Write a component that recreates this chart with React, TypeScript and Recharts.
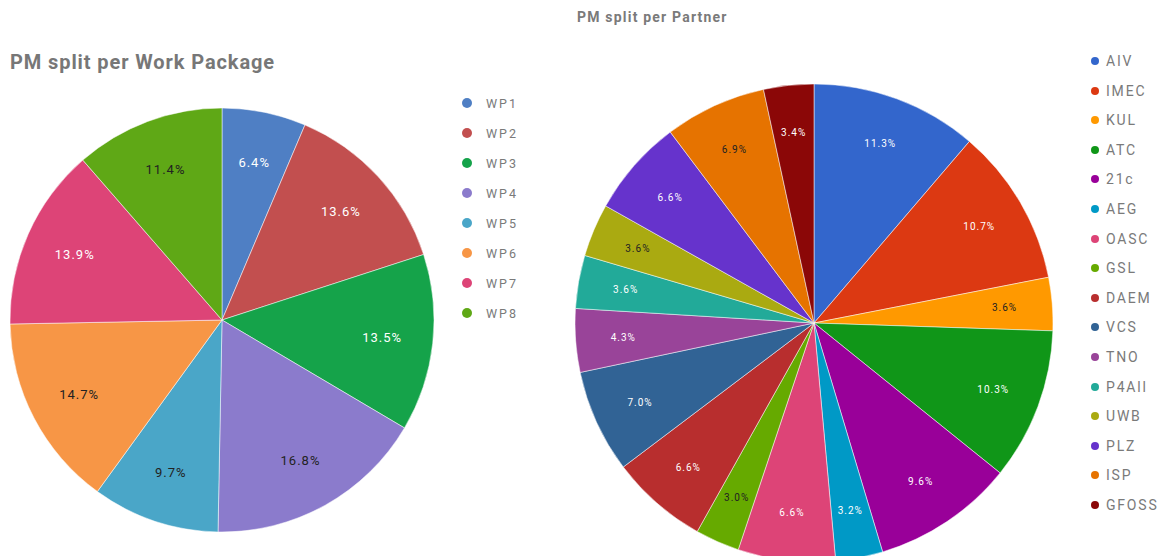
import React from "react";
import { PieChart, Pie, Cell, Legend } from "recharts";

const wpNames = ["WP1", "WP2", "WP3", "WP4", "WP5", "WP6", "WP7", "WP8"];
const wpValues = [6.4, 13.6, 13.5, 16.8, 9.7, 14.7, 13.9, 11.4];

const partnerNames = ["AIV", "IMEC", "KUL", "ATC", "21c", "AEG", "OASC", "GSL", "DAEM", "VCS", "TNO", "P4All", "UWB", "PLZ", "ISP", "GFOSS"];
const partnerValues = [11.3, 10.7, 3.6, 10.3, 9.6, 3.2, 6.6, 3.0, 6.6, 7.0, 4.3, 3.6, 3.6, 6.6, 6.9, 3.4];

const wpColors = ["#4f7fc4", "#c24f4f", "#15a34a", "#8b7bcc", "#4aa6c8", "#f79646", "#dd4477", "#5fa816"];
const wpLabelColors = ["#fff", "#fff", "#fff", "#222", "#222", "#222", "#fff", "#222"];
const partnerColors = ["#3366cc", "#dc3912", "#ff9900", "#109618", "#990099", "#0099c6", "#dd4477", "#66aa00", "#b82e2e", "#316395", "#994499", "#22aa99", "#aaaa11", "#6633cc", "#e67300", "#8b0707"];
const partnerLabelColors = ["#fff", "#fff", "#222", "#fff", "#fff", "#fff", "#fff", "#222", "#fff", "#fff", "#fff", "#fff", "#222", "#fff", "#222", "#fff"];

const wpData = wpNames.map((name, i) => ({ name, value: wpValues[i] }));
const partnerData = partnerNames.map((name, i) => ({ name, value: partnerValues[i] }));

const RAD = Math.PI / 180;
const FONT = "Roboto, 'Noto Sans', sans-serif";

const makeLabel = (frac: number, colors: string[], size: number, spacing: number) => (props: any) => {
  const { cx, cy, midAngle, outerRadius, index, value } = props;
  const r = outerRadius * frac;
  const x = cx + r * Math.cos(-midAngle * RAD);
  const y = cy + r * Math.sin(-midAngle * RAD);
  return (
    <text x={x} y={y} fill={colors[index]} fontSize={size} fontFamily={FONT} letterSpacing={spacing} textAnchor="middle" dominantBaseline="central">
      {Number(value).toFixed(1)}%
    </text>
  );
};

const makeLegend = (order: string[], spacing: number, dotR: number, gap: number, size: number, ls: number) => (props: any) => {
  const payload = [...(props.payload || [])].sort((a: any, b: any) => order.indexOf(a.value) - order.indexOf(b.value));
  return (
    <div style={{ position: "relative" }}>
      {payload.map((p: any, i: number) => (
        <div key={i} style={{ position: "absolute", left: 0, top: i * spacing, height: 16, display: "flex", alignItems: "center", fontFamily: FONT, fontSize: size, letterSpacing: ls, color: "#7a7a7a", whiteSpace: "nowrap" }}>
          <span style={{ display: "inline-block", width: dotR * 2, height: dotR * 2, borderRadius: "50%", background: p.color, marginRight: gap }} />
          <span>{p.value}</span>
        </div>
      ))}
    </div>
  );
};

export default function App() {
  return (
    <div style={{ position: "absolute", left: 0, top: 0, width: 1165, height: 556, background: "#fff", overflow: "hidden" }}>
      <div style={{ position: "absolute", left: 10, top: 50, fontFamily: FONT, fontWeight: 700, fontSize: 20, letterSpacing: 0.9, color: "#777" }}>
        PM split per Work Package
      </div>
      <div style={{ position: "absolute", left: 577, top: 9, fontFamily: FONT, fontWeight: 700, fontSize: 14, letterSpacing: 1.2, color: "#7a7a7a" }}>
        PM split per Partner
      </div>
      <div style={{ position: "absolute", left: 0, top: 0 }}>
        <PieChart width={560} height={556} margin={{ top: 0, right: 0, bottom: 0, left: 0 }}>
          <Pie data={wpData} dataKey="value" nameKey="name" cx={222} cy={320} outerRadius={212} startAngle={90} endAngle={-270}
            isAnimationActive={false} labelLine={false} label={makeLabel(0.76, wpLabelColors, 13, 1)} stroke="#fff" strokeWidth={0.5}>
            {wpData.map((d, i) => <Cell key={d.name} fill={wpColors[i]} />)}
          </Pie>
          <Legend layout="vertical" align="right" verticalAlign="top" wrapperStyle={{ left: 462, top: 95, width: 95 }}
            content={makeLegend(wpNames, 30, 5, 14, 12.5, 2)} />
        </PieChart>
      </div>
      <div style={{ position: "absolute", left: 560, top: 0 }}>
        <PieChart width={605} height={556} margin={{ top: 0, right: 0, bottom: 0, left: 0 }}>
          <Pie data={partnerData} dataKey="value" nameKey="name" cx={254} cy={323} outerRadius={239} startAngle={90} endAngle={-270}
            isAnimationActive={false} labelLine={false} label={makeLabel(0.8, partnerLabelColors, 10, 1)} stroke="#fff" strokeWidth={0.5}>
            {partnerData.map((d, i) => <Cell key={d.name} fill={partnerColors[i]} />)}
          </Pie>
          <Legend layout="vertical" align="right" verticalAlign="top" wrapperStyle={{ left: 531, top: 53, width: 74 }}
            content={makeLegend(partnerNames, 29.6, 4, 7, 14, 1.8)} />
        </PieChart>
      </div>
    </div>
  );
}
